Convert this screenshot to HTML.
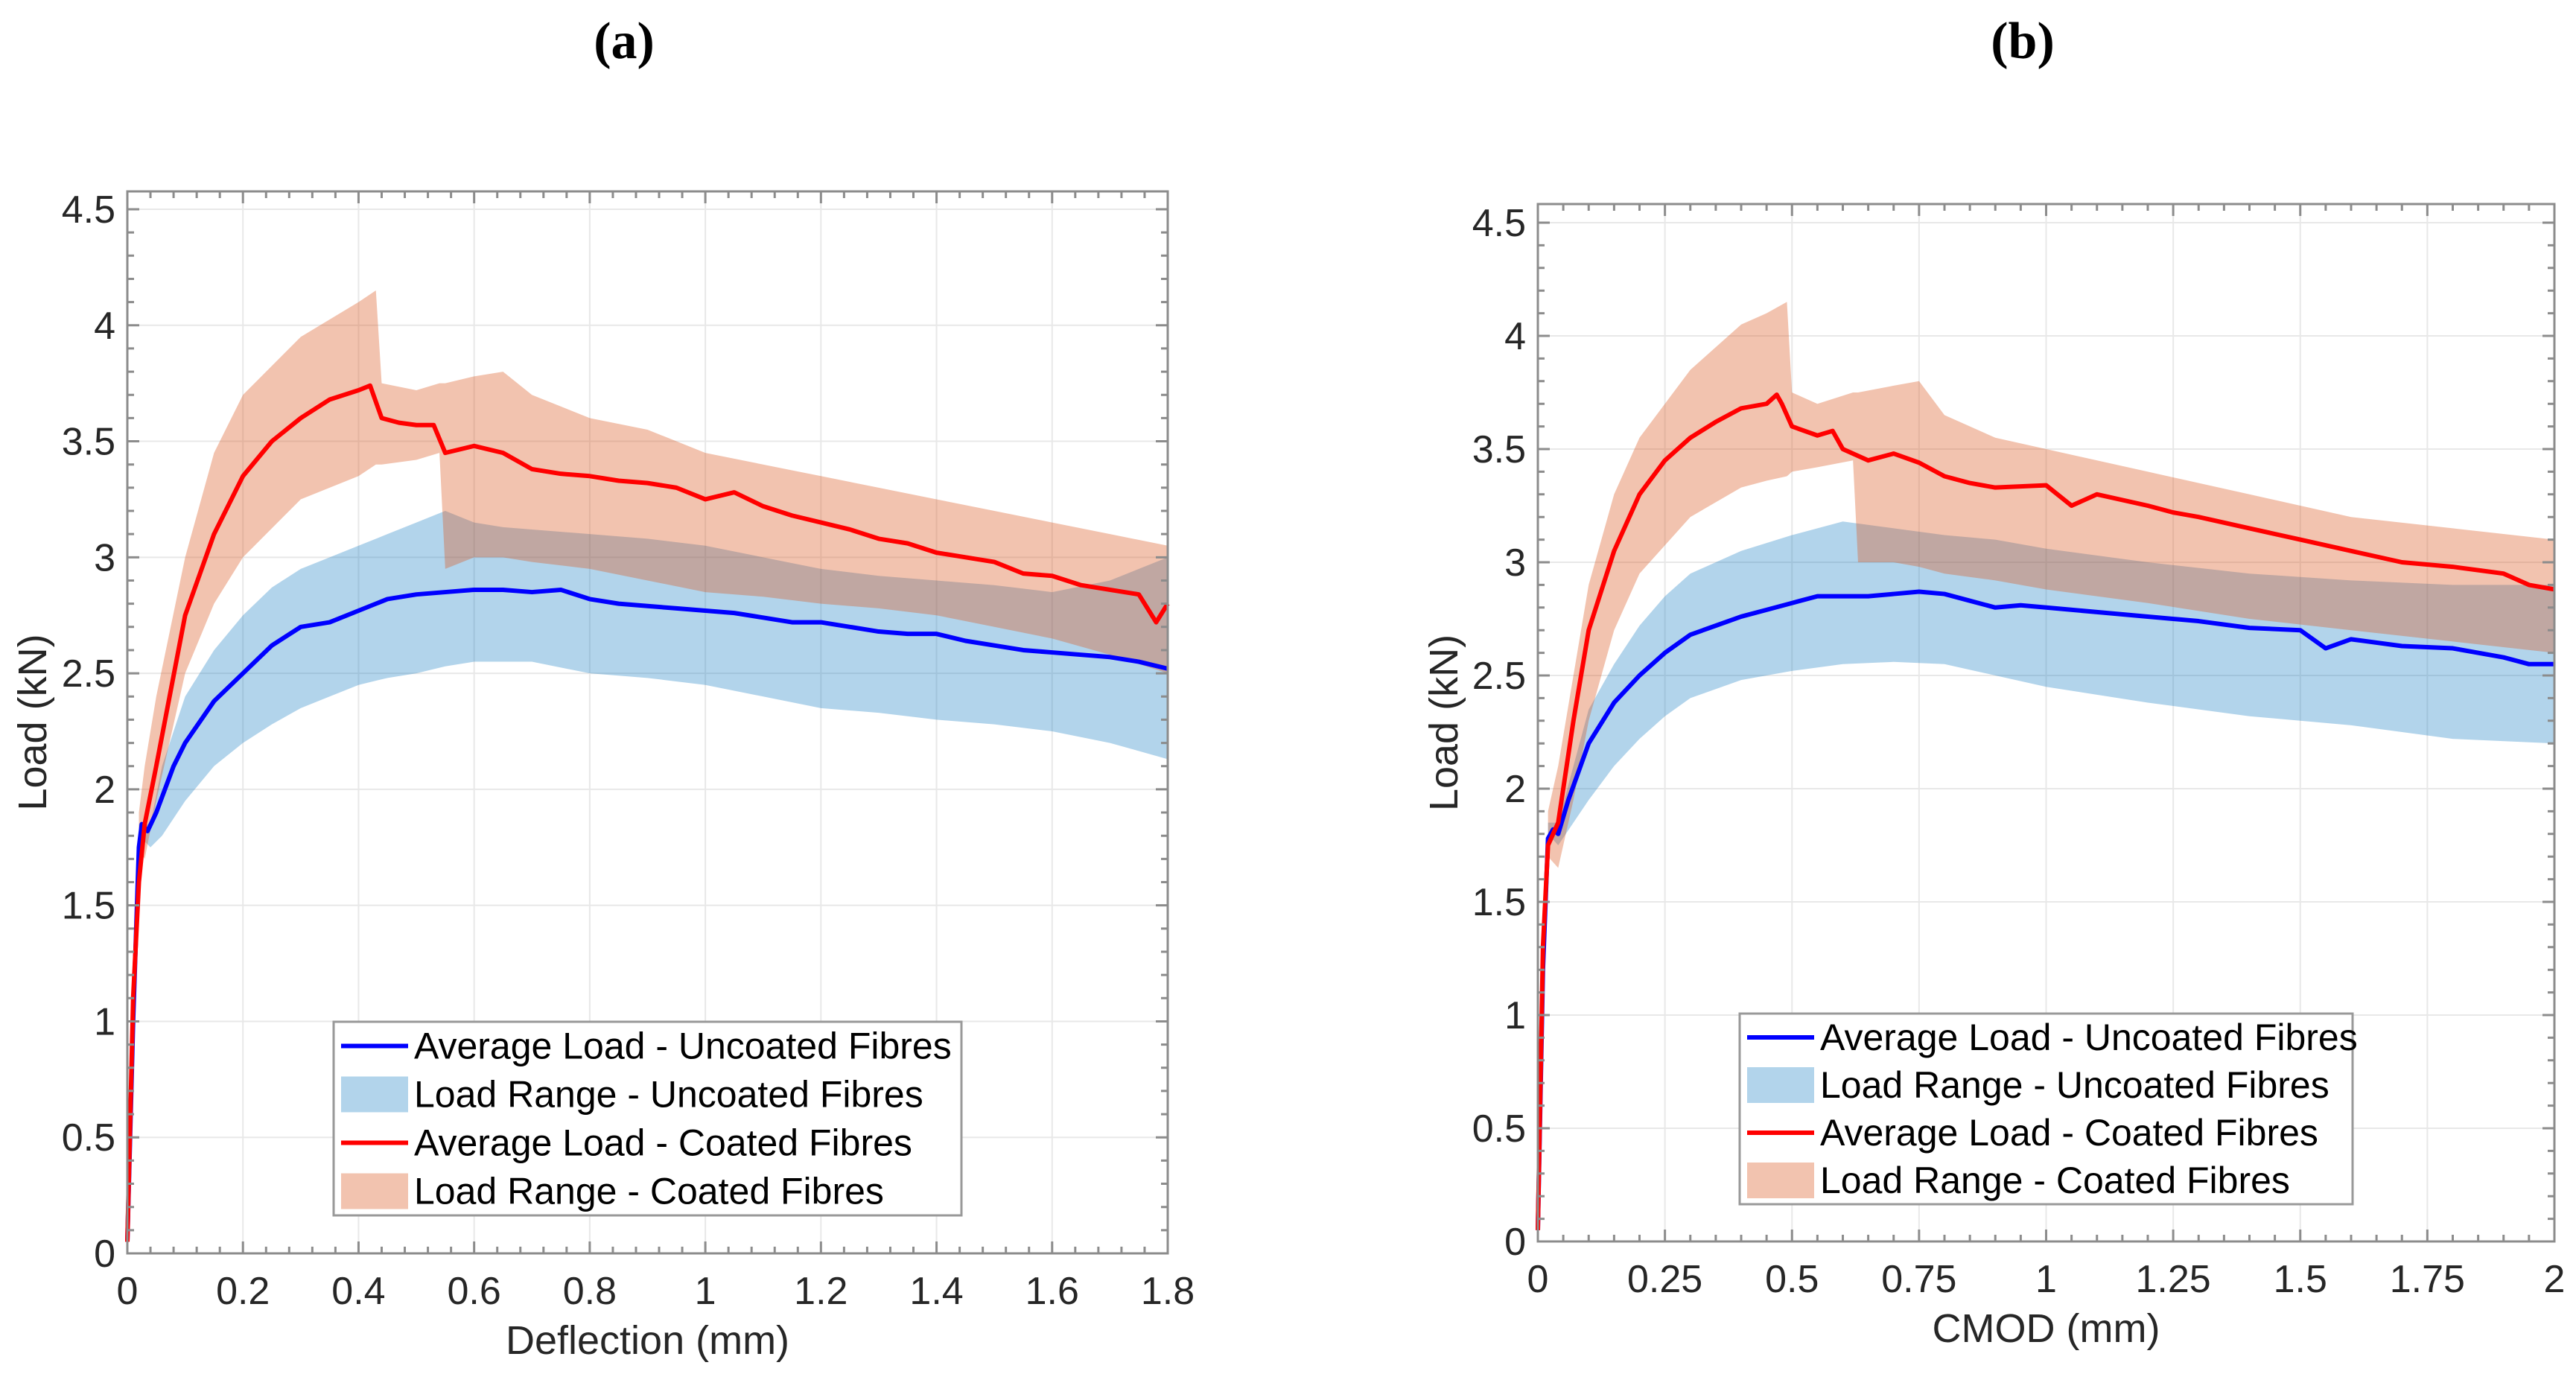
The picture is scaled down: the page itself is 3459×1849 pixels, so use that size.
<!DOCTYPE html>
<html><head><meta charset="utf-8"><style>
html,body{margin:0;padding:0;background:#fff;}
svg{display:block;font-family:"Liberation Sans",sans-serif;}
</style></head><body>
<svg id="fig" xmlns="http://www.w3.org/2000/svg" width="3459" height="1849" viewBox="0 0 3459 1849">
<rect x="0" y="0" width="3459" height="1849" fill="#fff"/>
<text x="838" y="78" text-anchor="middle" font-family="Liberation Serif,serif" font-weight="bold" font-size="70" fill="#000">(a)</text>
<text x="2716" y="78" text-anchor="middle" font-family="Liberation Serif,serif" font-weight="bold" font-size="70" fill="#000">(b)</text>
</svg>
<script>
// ---------- Panel (a): Deflection ----------
const aBlueX   = [0,0.01,0.02,0.025,0.035,0.05,0.08,0.1,0.15,0.2,0.25,0.3,0.35,0.4,0.45,0.5,0.55,0.6,0.65,0.7,0.75,0.8,0.85,0.9,0.95,1.0,1.05,1.1,1.15,1.2,1.25,1.3,1.35,1.4,1.45,1.5,1.55,1.6,1.65,1.7,1.75,1.8];
const aBlueAvg = [0.05,1.0,1.75,1.85,1.82,1.9,2.1,2.2,2.38,2.5,2.62,2.7,2.72,2.77,2.82,2.84,2.85,2.86,2.86,2.85,2.86,2.82,2.8,2.79,2.78,2.77,2.76,2.74,2.72,2.72,2.7,2.68,2.67,2.67,2.64,2.62,2.6,2.59,2.58,2.57,2.55,2.52];
const aBandX    = [0.02,0.04,0.06,0.1,0.15,0.2,0.25,0.3,0.35,0.4,0.45,0.5,0.55,0.6,0.65,0.7,0.8,0.9,1.0,1.1,1.2,1.3,1.4,1.5,1.6,1.7,1.8];
const aBlueHigh = [1.85,1.85,2.1,2.4,2.6,2.75,2.87,2.95,3.0,3.05,3.1,3.15,3.2,3.15,3.13,3.12,3.1,3.08,3.05,3.0,2.95,2.92,2.9,2.88,2.85,2.9,3.0];
const aBlueLow  = [1.8,1.75,1.8,1.95,2.1,2.2,2.28,2.35,2.4,2.45,2.48,2.5,2.53,2.55,2.55,2.55,2.5,2.48,2.45,2.4,2.35,2.33,2.3,2.28,2.25,2.2,2.13];
const aRedX    = [0,0.01,0.02,0.03,0.05,0.1,0.15,0.2,0.25,0.3,0.35,0.4,0.42,0.44,0.47,0.5,0.53,0.55,0.6,0.65,0.7,0.75,0.8,0.85,0.9,0.95,1.0,1.05,1.1,1.15,1.2,1.25,1.3,1.35,1.4,1.45,1.5,1.55,1.6,1.65,1.7,1.75,1.78,1.8];
const aRedAvg  = [0.05,1.1,1.6,1.85,2.1,2.75,3.1,3.35,3.5,3.6,3.68,3.72,3.74,3.6,3.58,3.57,3.57,3.45,3.48,3.45,3.38,3.36,3.35,3.33,3.32,3.3,3.25,3.28,3.22,3.18,3.15,3.12,3.08,3.06,3.02,3.0,2.98,2.93,2.92,2.88,2.86,2.84,2.72,2.8];
const aRedBandX = [0.02,0.03,0.05,0.1,0.15,0.2,0.3,0.4,0.43,0.44,0.5,0.54,0.55,0.6,0.65,0.7,0.8,0.9,1.0,1.1,1.2,1.3,1.4,1.5,1.6,1.7,1.8];
const aRedHigh  = [1.9,2.1,2.4,3.0,3.45,3.7,3.95,4.1,4.15,3.75,3.72,3.75,3.75,3.78,3.8,3.7,3.6,3.55,3.45,3.4,3.35,3.3,3.25,3.2,3.15,3.1,3.05];
const aRedLow   = [1.75,1.7,1.95,2.5,2.8,3.0,3.25,3.35,3.4,3.4,3.42,3.45,2.95,3.0,3.0,2.98,2.95,2.9,2.85,2.83,2.8,2.78,2.75,2.7,2.65,2.58,2.5];
const aXTicks = ["0","0.2","0.4","0.6","0.8","1","1.2","1.4","1.6","1.8"];
const aYTicks = ["0","0.5","1","1.5","2","2.5","3","3.5","4","4.5"];

// ---------- Panel (b): CMOD ----------
const bBlueX   = [0,0.01,0.02,0.03,0.04,0.06,0.1,0.15,0.2,0.25,0.3,0.35,0.4,0.45,0.5,0.55,0.6,0.65,0.7,0.75,0.8,0.85,0.9,0.95,1.0,1.1,1.2,1.3,1.4,1.5,1.55,1.6,1.7,1.8,1.9,1.95,2.0];
const bBlueAvg = [0.05,1.2,1.78,1.82,1.8,1.95,2.2,2.38,2.5,2.6,2.68,2.72,2.76,2.79,2.82,2.85,2.85,2.85,2.86,2.87,2.86,2.83,2.8,2.81,2.8,2.78,2.76,2.74,2.71,2.7,2.62,2.66,2.63,2.62,2.58,2.55,2.55];
const bBandX    = [0.02,0.04,0.07,0.1,0.15,0.2,0.25,0.3,0.4,0.5,0.6,0.7,0.8,0.9,1.0,1.2,1.4,1.6,1.8,2.0];
const bBlueHigh = [1.85,1.85,2.1,2.35,2.55,2.72,2.85,2.95,3.05,3.12,3.18,3.15,3.12,3.1,3.06,3.0,2.95,2.92,2.9,2.9];
const bBlueLow  = [1.8,1.75,1.85,1.95,2.1,2.22,2.32,2.4,2.48,2.52,2.55,2.56,2.55,2.5,2.45,2.38,2.32,2.28,2.22,2.2];
const bRedX    = [0,0.01,0.02,0.04,0.07,0.1,0.15,0.2,0.25,0.3,0.35,0.4,0.45,0.47,0.48,0.5,0.55,0.58,0.6,0.65,0.7,0.75,0.8,0.85,0.9,1.0,1.05,1.1,1.2,1.25,1.3,1.4,1.5,1.6,1.7,1.8,1.9,1.95,2.0];
const bRedAvg  = [0.05,1.3,1.75,1.85,2.3,2.7,3.05,3.3,3.45,3.55,3.62,3.68,3.7,3.74,3.7,3.6,3.56,3.58,3.5,3.45,3.48,3.44,3.38,3.35,3.33,3.34,3.25,3.3,3.25,3.22,3.2,3.15,3.1,3.05,3.0,2.98,2.95,2.9,2.88];
const bRedBandX = [0.02,0.04,0.07,0.1,0.15,0.2,0.3,0.4,0.45,0.49,0.5,0.55,0.62,0.63,0.7,0.75,0.8,0.9,1.0,1.2,1.4,1.6,1.8,2.0];
const bRedHigh  = [1.9,2.1,2.5,2.9,3.3,3.55,3.85,4.05,4.1,4.15,3.75,3.7,3.75,3.75,3.78,3.8,3.65,3.55,3.5,3.4,3.3,3.2,3.15,3.1];
const bRedLow   = [1.7,1.65,1.95,2.3,2.7,2.95,3.2,3.33,3.36,3.38,3.4,3.42,3.45,3.0,3.0,2.98,2.95,2.92,2.88,2.82,2.75,2.7,2.65,2.6];
const bXTicks = ["0","0.25","0.5","0.75","1","1.25","1.5","1.75","2"];
const bYTicks = ["0","0.5","1","1.5","2","2.5","3","3.5","4","4.5"];

const NS = "http://www.w3.org/2000/svg";
const svg = document.getElementById("fig");
function mk(tag, attrs, parent) {
  const e = document.createElementNS(NS, tag);
  for (const k in attrs) e.setAttribute(k, attrs[k]);
  (parent || svg).appendChild(e);
  return e;
}

function drawPanel(p) {
  const g = mk("g", {});
  
  
  const sx = v => p.x0 + (v - 0) / p.xmax * (p.x1 - p.x0);
  const sy = v => p.y0 - v / 4.5 * (p.y0 - p.y45);
  const L = p.x0, R = p.x1, B = p.y0, T = p.top;
  const xStep = p.xmax / (p.xTicks.length - 1);
  for (let i = 0; i < p.xTicks.length; i++) {
    const X = sx(i * xStep);
    const gl = mk("line", {x1: X, x2: X, y1: T, y2: B, stroke: "#e8e8e8", "stroke-width": 2}, g);
    
    
  }
  for (let i = 0; i < p.yTicks.length; i++) {
    const Y = sy(i * 0.5);
    const gl = mk("line", {x1: L, x2: R, y1: Y, y2: Y, stroke: "#e8e8e8", "stroke-width": 2}, g);
    
    
  }
  function band(xs, lo, hi, color, op, name) {
    let d = "M" + sx(xs[0]) + "," + sy(hi[0]);
    for (let i = 1; i < xs.length; i++) d += "L" + sx(xs[i]) + "," + sy(hi[i]);
    for (let i = xs.length - 1; i >= 0; i--) d += "L" + sx(xs[i]) + "," + sy(lo[i]);
    const e = mk("path", {d: d + "Z", fill: color, "fill-opacity": op, stroke: "none"}, g);
    
    
  }
  band(p.blueBandX, p.blueLow, p.blueHigh, "rgb(0,114,189)", 0.3, 'uncoated-load-range');
  band(p.redBandX, p.redLow, p.redHigh, "rgb(217,83,25)", 0.35, 'coated-load-range');
  function line(xs, ys, color, name) {
    let d = "";
    for (let i = 0; i < xs.length; i++) d += (i ? "L" : "M") + sx(xs[i]) + "," + sy(ys[i]);
    const e = mk("path", {d: d, fill: "none", stroke: color, "stroke-width": 6, "stroke-linejoin": "round"}, g);
    
    
  }
  line(p.blueX, p.blueAvg, "#0000ff", 'uncoated-average-line');
  line(p.redX, p.redAvg, "#ff0000", 'coated-average-line');
  const box = mk("rect", {x: L, y: T, width: R - L, height: B - T, fill: "none", stroke: "#8c8c8c", "stroke-width": 3}, g);
  
  
  let td = "";
  const nMinX = (p.xTicks.length - 1) * 5;
  for (let i = 0; i <= nMinX; i++) {
    const X = sx(i * xStep / 5), len = (i % 5 === 0) ? 16 : 9;
    td += "M" + X + "," + B + "v" + (-len) + "M" + X + "," + T + "v" + len;
  }
  const maxY = (p.y0 - T) / (p.y0 - p.y45) * 4.5;
  for (let i = 0; i * 0.1 <= maxY + 1e-9; i++) {
    const Y = sy(i * 0.1), len = (i % 5 === 0) ? 16 : 9;
    td += "M" + L + "," + Y + "h" + len + "M" + R + "," + Y + "h" + (-len);
  }
  const ticks = mk("path", {d: td, stroke: "#8c8c8c", "stroke-width": 3, fill: "none"}, g);
  
  
  for (let i = 0; i < p.xTicks.length; i++) {
    const t = mk("text", {x: sx(i * xStep), y: B + 68, "text-anchor": "middle", "font-size": 52, fill: "#262626"}, g);
    t.textContent = p.xTicks[i];
    
    
  }
  for (let i = 0; i < p.yTicks.length; i++) {
    const t = mk("text", {x: L - 16, y: sy(i * 0.5) + 18, "text-anchor": "end", "font-size": 52, fill: "#262626"}, g);
    t.textContent = p.yTicks[i];
    
    
  }
  const xt = mk("text", {x: (L + R) / 2, y: B + 135, "text-anchor": "middle", "font-size": 54, fill: "#262626"}, g);
  xt.textContent = p.xTitle;
  
  
  const yt = mk("text", {x: 0, y: 0, "text-anchor": "middle", "font-size": 54, fill: "#262626", transform: "translate(" + p.yTitleX + "," + ((T + B) / 2) + ") rotate(-90)"}, g);
  yt.textContent = "Load (kN)";
  
  
  const lg = mk("g", {}, g);
  
  
  const lb = mk("rect", {x: p.lx, y: p.ly, width: p.lw, height: p.lh, fill: "#fff", stroke: "#999", "stroke-width": 3}, lg);
  
  
  const labels = ["Average Load - Uncoated Fibres", "Load Range - Uncoated Fibres", "Average Load - Coated Fibres", "Load Range - Coated Fibres"];
  const rowH = p.lh / 4;
  for (let i = 0; i < 4; i++) {
    const cy = p.ly + rowH * (i + 0.5);
    let s;
    if (i % 2 === 0) s = mk("line", {x1: p.lx + 10, x2: p.lx + 100, y1: cy, y2: cy, stroke: i === 0 ? "#0000ff" : "#ff0000", "stroke-width": 6}, lg);
    else s = mk("rect", {x: p.lx + 10, y: cy - 24, width: 90, height: 48, fill: i === 1 ? "rgb(0,114,189)" : "rgb(217,83,25)", "fill-opacity": i === 1 ? 0.3 : 0.35}, lg);
    
    
    const t = mk("text", {x: p.lx + 108, y: cy + 17, "font-size": 50, fill: "#000"}, lg);
    t.textContent = labels[i];
    
    
  }
}

drawPanel({id: "panel-a", x0: 171, x1: 1568, y0: 1683, y45: 281, top: 257, xmax: 1.8,
  xTicks: aXTicks, yTicks: aYTicks, xTitle: "Deflection (mm)", yTitleX: 62,
  blueX: aBlueX, blueAvg: aBlueAvg, blueBandX: aBandX, blueHigh: aBlueHigh, blueLow: aBlueLow,
  redX: aRedX, redAvg: aRedAvg, redBandX: aRedBandX, redHigh: aRedHigh, redLow: aRedLow,
  lx: 448, ly: 1372, lw: 843, lh: 260});
drawPanel({id: "panel-b", x0: 2065, x1: 3430, y0: 1667, y45: 299, top: 274, xmax: 2,
  xTicks: bXTicks, yTicks: bYTicks, xTitle: "CMOD (mm)", yTitleX: 1957,
  blueX: bBlueX, blueAvg: bBlueAvg, blueBandX: bBandX, blueHigh: bBlueHigh, blueLow: bBlueLow,
  redX: bRedX, redAvg: bRedAvg, redBandX: bRedBandX, redHigh: bRedHigh, redLow: bRedLow,
  lx: 2336, ly: 1361, lw: 823, lh: 256});
</script>
</body></html>
